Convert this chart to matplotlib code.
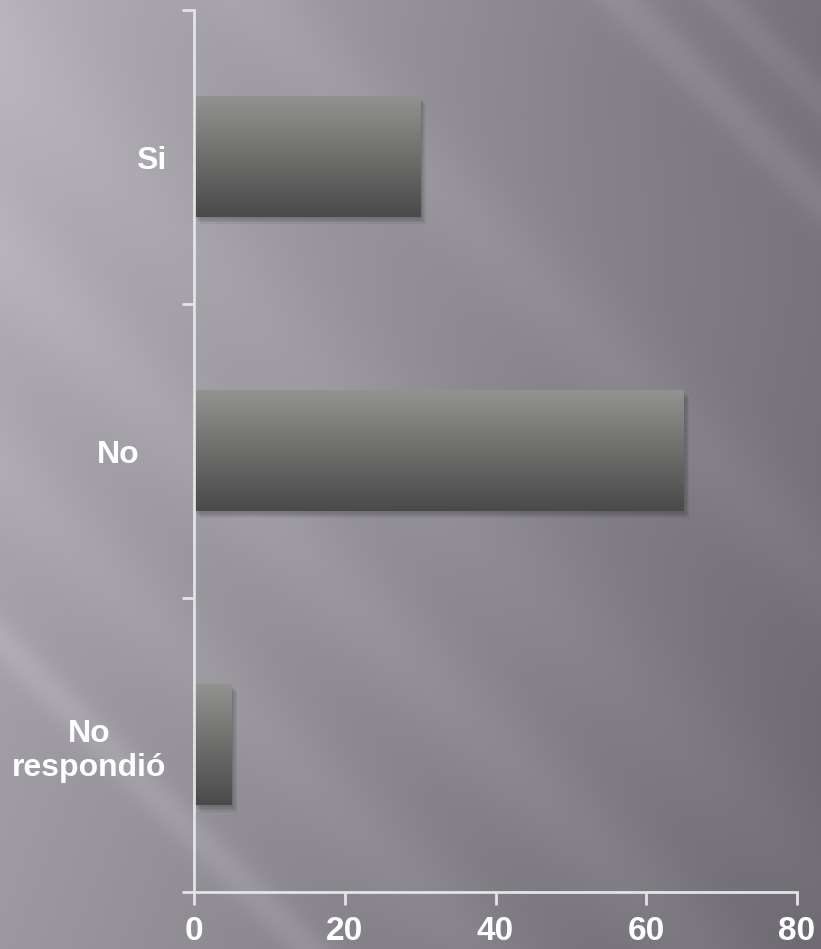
import numpy as np
import matplotlib.pyplot as plt
import matplotlib.transforms as mtransforms

# data
categories = ["Si", "No", "No\nrespondió"]
values = [30, 65, 5]
xticks = [0, 20, 40, 60, 80]

W, H, DPI = 821, 949, 100
fig = plt.figure(figsize=(W / DPI, H / DPI), dpi=DPI)

# background: grey gradient with soft diagonal streaks
bg_ax = fig.add_axes([0, 0, 1, 1])
bg_ax.set_axis_off()
yy, xx = np.mgrid[0:H, 0:W].astype(float)
light = 0.70 - 0.20 * (xx / W) - 0.09 * (yy / H)
light -= 0.04 * np.exp(-((yy - 0) / 220.0) ** 2) * (xx / W)
d = xx - yy  # "\" direction streaks
for c, amp, width in [(-640, 0.05, 25), (-470, 0.03, 60), (-250, 0.04, 70),
                      (-60, 0.03, 90), (250, 0.03, 60), (620, 0.05, 30), (720, 0.04, 25)]:
    light += amp * np.exp(-((d - c) / width) ** 2)
rgb = np.dstack([light, light - 0.012, light + 0.018]).clip(0, 1)
bg_ax.imshow(rgb, extent=(0, 1, 0, 1), aspect="auto", origin="upper")

ax = fig.add_axes([194 / W, (H - 892) / H, (797 - 194) / W, (892 - 10) / H])
ax.patch.set_alpha(0)

ypos = np.arange(len(categories))
bar_h = 0.41
bars = ax.barh(ypos, values, height=bar_h, color="none", edgecolor="none")

# gradient fill + soft shadow for each bar
grad = np.linspace(0, 1, 256).reshape(-1, 1)
top_c = np.array([0x92, 0x92, 0x90]) / 255
bot_c = np.array([0x4a, 0x4a, 0x4a]) / 255
grad_img = (top_c + (bot_c - top_c) * grad).reshape(256, 1, 3)
for b, v, y in zip(bars, values, ypos):
    for k in range(4):
        ax.barh(y, v, height=bar_h, color="black", alpha=0.06,
                transform=ax.transData + mtransforms.ScaledTranslation(
                    (1 + k) / 72, -(1.5 + k) / 72, fig.dpi_scale_trans), zorder=1)
    ax.imshow(grad_img, extent=(0, v, y + bar_h / 2, y - bar_h / 2),
              aspect="auto", origin="upper", zorder=2)

ax.set_xlim(0, 80)
ax.set_ylim(2.5, -0.5)

for s in ["top", "right"]:
    ax.spines[s].set_visible(False)
for s in ["left", "bottom"]:
    ax.spines[s].set_color("#e4e4e6")
    ax.spines[s].set_linewidth(2)

ax.set_xticks(xticks)
ax.set_xticklabels([str(t) for t in xticks])
ax.set_yticks([-0.5, 0.5, 1.5, 2.5])
ax.set_yticklabels([])
ax.set_yticks(ypos, minor=True)
ax.set_yticklabels(categories, minor=True, ha="center", multialignment="center")
ax.tick_params(axis="y", which="major", length=9, width=2, color="#e4e4e6")
ax.tick_params(axis="y", which="minor", length=0, pad=0)
ax.tick_params(axis="x", length=9, width=2, color="#e4e4e6", pad=8)

font = dict(family="Liberation Sans", weight="bold", size=23, color="white")
for lab in ax.get_xticklabels():
    lab.set(**font)
    lab.set_fontsize(24)
centers_px = [151, 118, 89]
for lab, cx in zip(ax.get_yticklabels(minor=True), centers_px):
    lab.set(**font)
    lab.set_linespacing(1.2)
    off = mtransforms.ScaledTranslation(-(194 - cx) / DPI, 0, fig.dpi_scale_trans)
    lab.set_transform(ax.get_yaxis_transform(which="tick1") + off)
    lab.set_position((0, lab.get_position()[1]))

fig.savefig("out.png", dpi=DPI)
